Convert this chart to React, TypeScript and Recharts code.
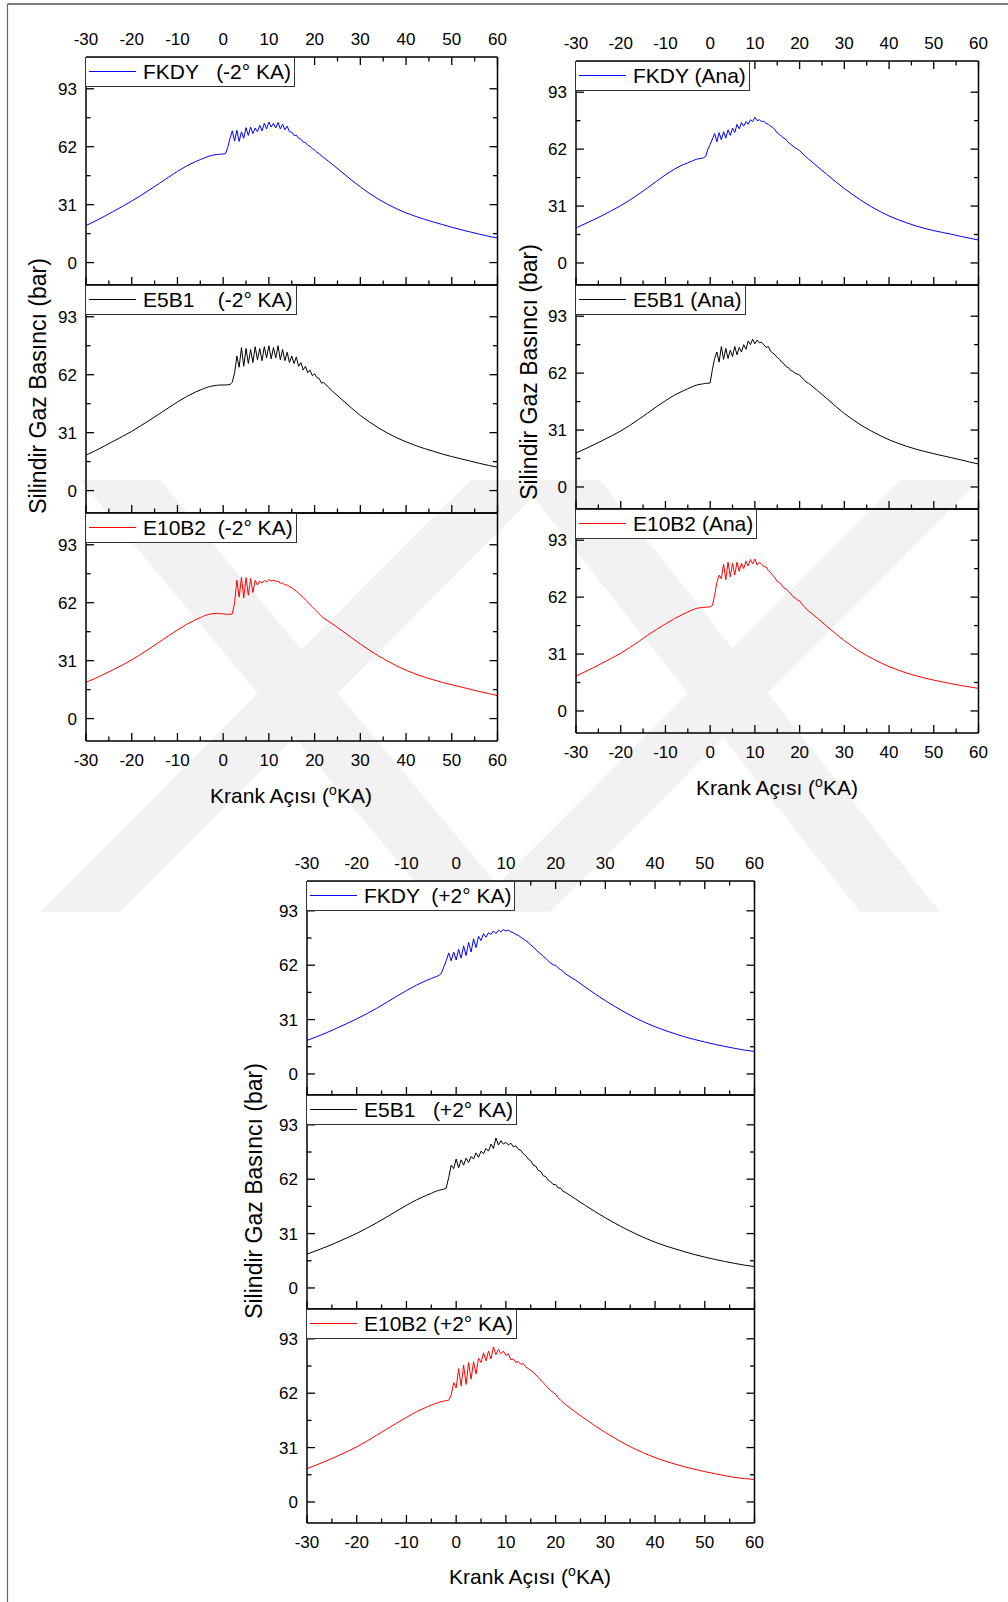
import React from 'react';
import { LineChart, Line, XAxis, YAxis } from 'recharts';

// crank angle grid (°KA), shared by all series
const angles = [
  -30, -28, -26, -24, -22, -20, -18, -16, -14, -12, -10, -8, -6,
  -5, -4.5, -4, -3.5, -3, -2.5, -2, -1.5, -1, -0.5,
  0, 0.5, 1, 1.5, 2, 2.5, 3, 3.5, 4, 4.5,
  5, 5.5, 6, 6.5, 7, 7.5, 8, 8.5, 9, 9.5,
  10, 10.5, 11, 11.5, 12, 12.5, 13, 13.5, 14, 14.5,
  15, 15.5, 16, 16.5, 17, 17.5, 18, 18.5, 19, 19.5,
  20, 20.5, 21, 21.5, 22,
  24, 26, 28, 30, 32, 34, 36, 38, 40, 42, 44, 46, 48, 50, 52, 54, 56, 58, 60,
];

// cylinder gas pressure (bar), -2° KA
const fkdyM2 = [
  19.8, 22.2, 24.7, 27.4, 30.1, 32.9, 35.9, 39.1, 42.3, 45.6, 48.8, 51.7, 54.1,
  55.1, 55.6, 56.1, 56.6, 57.0, 57.3, 57.6, 57.8, 57.9, 58.0,
  58.1, 58.3, 61.5, 66.5, 70.5, 65.0, 70.8, 64.8, 70.0, 66.5,
  72.2, 68.0, 72.5, 69.0, 72.0, 70.0, 73.5, 70.5, 74.5, 71.5,
  75.2, 72.5, 74.5, 72.0, 75.0, 71.5, 74.0, 71.0, 73.0, 70.0,
  69.8, 68.0, 68.2, 66.5, 66.0, 64.5, 64.2, 62.8, 62.2, 61.0,
  60.2, 59.0, 58.3, 57.0, 56.2,
  52.3, 48.3, 44.3, 40.5, 37.0, 33.9, 31.1, 28.7, 26.6, 24.8, 23.2, 21.7, 20.3, 18.9, 17.6, 16.4, 15.2, 14.1, 13.1,
];
const e5b1M2 = [
  19.0, 21.3, 23.8, 26.4, 29.0, 31.7, 34.7, 37.8, 41.0, 44.2, 47.4, 50.3, 52.8,
  53.8, 54.3, 54.8, 55.2, 55.6, 55.9, 56.1, 56.3, 56.4, 56.5,
  56.5, 56.5, 56.6, 56.8, 58.0, 63.0, 72.0, 66.0, 76.5, 66.5,
  76.0, 68.0, 75.5, 68.5, 77.0, 70.0, 76.0, 69.5, 77.0, 71.0,
  77.5, 70.5, 76.5, 71.0, 77.5, 70.0, 75.5, 69.5, 74.0, 68.5,
  72.0, 68.0, 71.5, 66.5, 68.5, 64.5, 66.5, 63.0, 64.5, 61.5,
  62.5, 60.5, 60.0, 57.5, 57.8,
  53.0, 48.6, 44.3, 40.2, 36.7, 33.5, 30.7, 28.2, 26.1, 24.2, 22.5, 21.0, 19.5, 18.2, 17.0, 15.8, 14.6, 13.5, 12.5,
];
const e10b2M2 = [
  19.4, 21.5, 23.8, 26.2, 28.7, 31.4, 34.4, 37.6, 40.9, 44.2, 47.4, 50.4, 52.9,
  54.0, 54.6, 55.1, 55.5, 55.8, 56.0, 56.2, 56.3, 56.2, 56.1,
  56.0, 55.9, 55.8, 55.8, 56.0, 62.0, 74.0, 65.0, 75.5, 64.5,
  75.5, 66.0, 75.0, 67.5, 74.0, 71.5, 73.5, 72.5, 74.0, 73.0,
  74.5, 73.5, 74.0, 73.5, 73.5, 72.5, 72.5, 71.5, 71.5, 70.5,
  70.0, 69.0, 68.2, 67.0, 66.0, 64.8, 63.5, 62.3, 61.0, 59.8,
  58.5, 57.3, 56.0, 54.8, 53.7,
  50.5, 47.0, 43.4, 39.9, 36.6, 33.5, 30.7, 28.1, 25.9, 23.9, 22.2, 20.7, 19.3, 18.1, 16.9, 15.7, 14.5, 13.4, 12.3,
];

// Ana
const fkdyAna = [
  19.1, 21.3, 23.6, 26.0, 28.6, 31.2, 34.2, 37.5, 40.9, 44.5, 48.0, 51.1, 53.6,
  54.5, 55.1, 55.6, 56.1, 56.5, 56.8, 57.0, 57.3, 58.0, 62.0,
  64.5, 67.5, 70.5, 66.0, 71.0, 67.0, 71.5, 68.0, 72.5, 69.5,
  73.5, 71.0, 75.5, 73.0, 76.5, 74.5, 77.0, 75.5, 78.0, 77.0,
  79.3, 77.5, 78.0, 77.0, 77.2, 76.0, 75.5, 74.5, 73.8, 72.5,
  70.8, 70.0, 69.0, 68.0, 67.0, 65.8, 64.5, 63.7, 62.7, 62.0,
  61.2, 60.0, 58.8, 57.7, 56.6,
  52.5, 48.4, 44.4, 40.5, 37.0, 33.7, 30.7, 28.0, 25.6, 23.6, 21.8, 20.2, 18.8, 17.6, 16.6, 15.6, 14.5, 13.5, 12.5,
];
const e5b1Ana = [
  18.5, 20.7, 23.0, 25.4, 27.9, 30.5, 33.5, 36.8, 40.2, 43.7, 47.0, 50.0, 52.4,
  53.5, 54.1, 54.6, 55.1, 55.5, 55.8, 56.0, 56.2, 56.4, 56.5,
  56.7, 64.0, 70.0, 73.5, 68.0, 76.5, 69.5, 75.5, 70.0, 74.5,
  71.0, 76.5, 72.0, 76.0, 73.5, 77.5, 75.0, 79.5, 77.5, 80.5,
  78.0, 80.0, 78.5, 78.8, 77.5, 76.0, 76.5, 74.0, 73.0, 72.0,
  70.5, 69.5, 68.0, 67.0, 65.5, 65.0, 63.5, 63.0, 62.0, 61.5,
  61.0, 59.5, 58.5, 57.0, 56.5,
  52.5, 48.3, 44.1, 40.0, 36.5, 33.3, 30.5, 28.0, 25.7, 23.8, 22.1, 20.6, 19.3, 18.1, 17.0, 15.9, 14.8, 13.6, 12.5,
];
const e10b2Ana = [
  19.0, 21.3, 23.7, 26.2, 28.8, 31.4, 34.5, 37.8, 41.2, 44.4, 47.4, 50.3, 52.8,
  53.9, 54.5, 55.0, 55.5, 55.9, 56.1, 56.3, 56.4, 56.5, 56.6,
  56.7, 57.5, 63.0, 70.0, 74.0, 72.0, 80.0, 71.5, 81.0, 73.0,
  80.5, 74.0, 81.0, 76.0, 80.5, 77.5, 81.5, 79.0, 82.5, 80.0,
  82.8, 79.5, 81.0, 80.0, 78.5, 78.5, 76.5, 75.5, 73.8, 72.5,
  70.5, 70.0, 68.5, 67.0, 66.5, 65.0, 64.0, 62.3, 61.5, 60.5,
  60.0, 58.2, 57.0, 55.5, 54.5,
  50.5, 46.3, 42.2, 38.3, 34.8, 31.6, 28.9, 26.4, 24.2, 22.3, 20.6, 19.2, 17.9, 16.8, 15.8, 14.8, 13.9, 13.1, 12.3,
];

// +2° KA
const fkdyP2 = [
  19.1, 21.3, 23.6, 26.1, 28.7, 31.4, 34.3, 37.4, 40.8, 44.2, 47.5, 50.6, 53.3,
  54.4, 55.0, 55.5, 56.2, 57.2, 61.0, 64.5, 69.0, 64.5, 69.5,
  65.0, 71.0, 66.0, 73.0, 67.5, 75.0, 69.5, 77.0, 72.0, 78.5,
  76.0, 80.0, 78.0, 80.5, 79.5, 81.5, 80.0, 82.0, 81.0, 82.3,
  81.5, 82.0, 81.0, 80.5, 79.5, 79.0, 78.0, 77.0, 76.0, 75.0,
  73.5, 72.5, 71.0, 69.5, 68.5, 67.0, 66.0, 64.5, 63.2, 62.2,
  62.0, 60.5, 59.5, 58.5, 57.0,
  53.5, 49.5, 45.5, 41.8, 38.3, 35.0, 32.0, 29.3, 26.9, 24.8, 22.9, 21.1, 19.6, 18.2, 16.9, 15.7, 14.6, 13.6, 12.8,
];
const e5b1P2 = [
  19.3, 21.4, 23.6, 26.0, 28.5, 31.1, 34.0, 37.1, 40.4, 43.8, 47.1, 50.2, 52.8,
  53.9, 54.6, 55.2, 55.6, 56.0, 56.3, 57.0, 63.0, 70.0, 68.0,
  73.5, 68.5, 73.0, 70.0, 74.0, 71.5, 75.0, 73.5, 77.0, 74.5,
  78.0, 76.5, 79.5, 78.0, 82.0, 79.5, 85.5, 81.5, 84.0, 82.0,
  83.0, 81.5, 82.5, 80.5, 81.0, 79.0, 78.5, 76.5, 75.5, 73.5,
  72.5, 70.0, 69.5, 67.0, 66.5, 64.0, 63.5, 61.5, 60.5, 59.0,
  59.0, 57.0, 57.0, 55.0, 54.5,
  50.7, 47.0, 43.4, 40.0, 36.8, 33.8, 31.0, 28.4, 26.1, 24.1, 22.3, 20.6, 19.0, 17.6, 16.3, 15.1, 14.0, 13.0, 12.2,
];
const e10b2P2 = [
  19.0, 21.2, 23.5, 26.0, 28.6, 31.4, 34.6, 38.0, 41.5, 44.9, 48.2, 51.4, 54.0,
  55.2, 55.8, 56.3, 56.8, 57.2, 57.5, 57.8, 58.0, 61.0, 68.0,
  65.0, 76.0, 66.0, 78.0, 67.0, 79.5, 70.0, 80.0, 73.0, 82.0,
  79.5, 85.0, 80.5, 86.0, 81.5, 88.4, 84.0, 87.0, 84.5, 86.0,
  83.5, 84.5, 81.0, 81.5, 79.5, 80.0, 78.5, 78.8, 77.0, 76.0,
  75.0, 74.0, 72.5, 71.0, 69.5, 68.0, 66.5, 65.0, 63.5, 62.5,
  61.3, 59.5, 58.0, 56.8, 55.5,
  51.2, 47.2, 43.3, 39.6, 36.2, 33.0, 30.1, 27.6, 25.3, 23.3, 21.6, 20.0, 18.6, 17.3, 16.1, 15.0, 14.0, 13.3, 12.8,
];

const xTicks = [-30, -25, -20, -15, -10, -5, 0, 5, 10, 15, 20, 25, 30, 35, 40, 45, 50, 55, 60];
const yTicks = [0, 15.5, 31, 46.5, 62, 77.5, 93];
const yLabelTicks = [0, 31, 62, 93];

const FONT = '"Liberation Sans", Arial, Helvetica, sans-serif';
// outer space round each plot; axes take 1px each, so the plot edge sits 1px further in
const M = { top: 34, right: 9, bottom: 39, left: 49 };
const PAD = { top: M.top + 1, left: M.left + 1 };

const XTick = ({ x, y, payload, side, labels }: any) => {
  const v = payload.value;
  const major = v % 10 === 0;
  const len = major ? 8 : 4.5;
  const dir = side === 'top' ? 1 : -1;
  return (
    <g>
      <line x1={x} y1={y} x2={x} y2={y + dir * len} stroke="#000" strokeWidth={1.3} />
      {labels && major && (
        <text x={x} y={side === 'top' ? y - 12.5 : y + 25} textAnchor="middle" fontSize={17} fontFamily={FONT} fill="#000">
          {v}
        </text>
      )}
    </g>
  );
};

const YTick = ({ x, y, payload, side }: any) => {
  const v = payload.value;
  const major = yLabelTicks.includes(v);
  const len = major ? 8 : 4.5;
  const dir = side === 'left' ? 1 : -1;
  return (
    <g>
      <line x1={x} y1={y} x2={x + dir * len} y2={y} stroke="#000" strokeWidth={1.3} />
      {side === 'left' && major && (
        <text x={x - 9} y={y + 6} textAnchor="end" fontSize={17} fontFamily={FONT} fill="#000">
          {v}
        </text>
      )}
    </g>
  );
};

function Panel({ left, top, width, height, values, color, label, first, last }: any) {
  const data = angles.map((a, i) => ({ a, p: values[i] }));
  const axisLine = { stroke: '#000', strokeWidth: 1.5 };
  return (
    <div style={{ position: 'absolute', left: left - PAD.left, top: top - PAD.top }}>
      <LineChart width={width + PAD.left + M.right + 1} height={height + PAD.top + M.bottom + 1} data={data} margin={M}>
        <XAxis
          xAxisId="b"
          dataKey="a"
          type="number"
          domain={[-30, 60]}
          ticks={xTicks}
          interval={0}
          height={1}
          tickSize={0}
          tickMargin={0}
          tickLine={false}
          axisLine={axisLine}
          tick={(p: any) => <XTick {...p} side="bottom" labels={last} />}
          allowDataOverflow
        />
        <XAxis
          xAxisId="t"
          orientation="top"
          dataKey="a"
          type="number"
          domain={[-30, 60]}
          ticks={xTicks}
          interval={0}
          height={1}
          tickSize={0}
          tickMargin={0}
          tickLine={false}
          axisLine={axisLine}
          tick={first ? (p: any) => <XTick {...p} side="top" labels /> : false}
          allowDataOverflow
        />
        <YAxis
          yAxisId="l"
          type="number"
          domain={[-12, 110]}
          ticks={yTicks}
          interval={0}
          width={1}
          tickSize={0}
          tickMargin={0}
          tickLine={false}
          axisLine={axisLine}
          tick={(p: any) => <YTick {...p} side="left" />}
          allowDataOverflow
        />
        <YAxis
          yAxisId="r"
          orientation="right"
          type="number"
          domain={[-12, 110]}
          ticks={yTicks}
          interval={0}
          width={1}
          tickSize={0}
          tickMargin={0}
          tickLine={false}
          axisLine={axisLine}
          tick={(p: any) => <YTick {...p} side="right" />}
          allowDataOverflow
        />
        <Line
          xAxisId="b"
          yAxisId="l"
          type="linear"
          dataKey="p"
          stroke={color}
          strokeWidth={1}
          dot={false}
          isAnimationActive={false}
        />
      </LineChart>
      <div
        style={{
          position: 'absolute',
          left: PAD.left - 0.5,
          top: PAD.top - 0.5,
          height: 30,
          display: 'flex',
          alignItems: 'center',
          background: '#fff',
          border: '1.3px solid #333',
          paddingRight: 3,
          fontFamily: FONT,
          fontSize: 21,
          color: '#000',
          whiteSpace: 'pre',
          boxSizing: 'border-box',
        }}
      >
        <span style={{ display: 'inline-block', width: 47, borderTop: `1.2px solid ${color}`, marginLeft: 3, marginRight: 7 }} />
        <span>{label}</span>
      </div>
    </div>
  );
}

const groups = [
  {
    left: 85.5, width: 411.5, tops: [57, 285, 513], height: 228,
    series: [
      { values: fkdyM2, color: '#0000ff', label: 'FKDY   (-2° KA)' },
      { values: e5b1M2, color: '#000000', label: 'E5B1    (-2° KA)' },
      { values: e10b2M2, color: '#ff0000', label: 'E10B2  (-2° KA)' },
    ],
    yTitle: { x: 46, y: 386 },
    xTitle: { x: 291, y: 803 },
  },
  {
    left: 575.5, width: 402.5, tops: [61, 285, 509], height: 224,
    series: [
      { values: fkdyAna, color: '#0000ff', label: 'FKDY (Ana)' },
      { values: e5b1Ana, color: '#000000', label: 'E5B1 (Ana)' },
      { values: e10b2Ana, color: '#ff0000', label: 'E10B2 (Ana)' },
    ],
    yTitle: { x: 537, y: 372 },
    xTitle: { x: 777, y: 795 },
  },
  {
    left: 306.5, width: 447.5, tops: [881, 1095, 1309], height: 214,
    series: [
      { values: fkdyP2, color: '#0000ff', label: 'FKDY  (+2° KA)' },
      { values: e5b1P2, color: '#000000', label: 'E5B1   (+2° KA)' },
      { values: e10b2P2, color: '#ff0000', label: 'E10B2 (+2° KA)' },
    ],
    yTitle: { x: 262, y: 1191 },
    xTitle: { x: 530, y: 1584 },
  },
];

// faint background watermark: two large crossed bands
const Watermark = () => {
  const band = (x1: number, x2: number) => `${x1},480 ${x1 + 80},480 ${x2 + 80},912 ${x2},912`;
  return (
    <g fill="#f2f2f2">
      <polygon points={band(80, 440)} />
      <polygon points={band(470, 40)} />
      <polygon points={band(520, 860)} />
      <polygon points={band(900, 470)} />
    </g>
  );
};

export default function App() {
  return (
    <div style={{ position: 'absolute', left: 0, top: 0, width: 1008, height: 1602, background: '#fff', overflow: 'hidden' }}>
      <svg width={1008} height={1602} style={{ position: 'absolute', left: 0, top: 0 }}>
        <Watermark />
        <line x1={7.5} y1={4} x2={1008} y2={4} stroke="#555" strokeWidth={1.4} />
        <line x1={7.5} y1={4} x2={7.5} y2={1602} stroke="#666" strokeWidth={1.2} />
      </svg>
      {groups.map((g, gi) =>
        g.series.map((s, si) => (
          <Panel
            key={`${gi}-${si}`}
            left={g.left}
            top={g.tops[si]}
            width={g.width}
            height={g.height}
            values={s.values}
            color={s.color}
            label={s.label}
            first={si === 0}
            last={si === 2}
          />
        ))
      )}
      <svg width={1008} height={1602} style={{ position: 'absolute', left: 0, top: 0, pointerEvents: 'none' }}>
        {groups.map((g, gi) => (
          <g key={gi} fontFamily={FONT} fill="#000">
            <text
              x={g.yTitle.x}
              y={g.yTitle.y}
              textAnchor="middle"
              fontSize={23}
              transform={`rotate(-90 ${g.yTitle.x} ${g.yTitle.y})`}
            >
              Silindir Gaz Basıncı (bar)
            </text>
            <text x={g.xTitle.x} y={g.xTitle.y} textAnchor="middle" fontSize={21}>
              Krank Açısı (<tspan dy={-8} fontSize={14}>o</tspan>
              <tspan dy={8}>KA)</tspan>
            </text>
          </g>
        ))}
      </svg>
    </div>
  );
}
